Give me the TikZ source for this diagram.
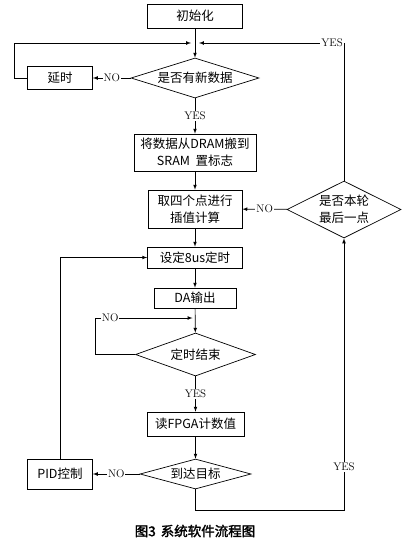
\documentclass[tikz,border=0pt]{standalone}
\usepackage{fontspec}
\usepackage{tikz}
\usetikzlibrary{positioning,shapes,arrows}
\newfontfamily\cjk{Noto Sans CJK SC}
\newfontfamily\cjkb[FakeBold=2]{Noto Sans CJK SC}

\begin{document}
\begin{tikzpicture}[x=1pt,y=-1pt,>=latex,line width=0.7pt,
    proc/.style={draw,rectangle,inner sep=0pt,align=center,font=\cjk\fontsize{12.5}{17}\selectfont},
    test/.style={draw,diamond,inner sep=0pt,align=center,font=\cjk\fontsize{12.5}{17}\selectfont},
    lbl/.style={fill=white,inner sep=1pt,font=\fontsize{11}{12}\selectfont}]
  \fill[white] (0,0) rectangle (412,544);
  \useasboundingbox (0,0) rectangle (412,544);
          % main column
          \node [proc,minimum width=95pt,minimum height=24pt] (init) at (195,16) {初始化};
          \node [test,minimum width=128pt,minimum height=40pt,aspect=3.2] (new) at (195,78) {是否有新数据};
          \node [proc,minimum width=65pt,minimum height=23pt] (delay) at (60,78) {延时};
          \node [proc,minimum width=122pt,minimum height=37pt] (move) at (195,152.5) {将数据从DRAM搬到\\SRAM\ \ 置标志};
          \node [proc,minimum width=94pt,minimum height=38pt] (interp) at (195,209) {取四个点进行\\插值计算};
          \node [test,minimum width=114pt,minimum height=57pt,aspect=2] (last) at (344,209.5) {是否本轮\\最后一点};
          \node [proc,minimum width=95pt,minimum height=21pt] (timer) at (195,257.5) {设定8us定时};
          \node [proc,minimum width=82pt,minimum height=20pt] (da) at (195,298) {DA输出};
          \node [test,minimum width=120pt,minimum height=43pt,aspect=2.8] (tend) at (195.5,354.5) {定时结束};
          \node [proc,minimum width=97pt,minimum height=24pt] (fpga) at (195.5,424) {读FPGA计数值};
          \node [test,minimum width=111pt,minimum height=30pt,aspect=3.7] (goal) at (195.5,474) {到达目标};
          \node [proc,minimum width=65pt,minimum height=30pt] (pid) at (60,474) {PID控制};
          \coordinate (j1) at (195,43);
          \coordinate (j2) at (195.5,318);
          % connectors
          \draw [->] (init) -- (new);
          \draw [->] (new) -- node [lbl] {NO} (delay);
          \draw [->,shorten >=4pt] (delay.west) -- ++(-13,0) |- (j1);
          \draw [->,shorten >=4pt] (last.north) |- node [lbl,pos=0.54] {YES} (j1);
          \draw [->] (new) -- node [lbl] {YES} (move);
          \draw [->] (move) -- (interp);
          \draw [->] (last) -- node [lbl] {NO} (interp);
          \draw [->] (interp) -- (timer);
          \draw [->] (timer) -- (da);
          \draw [->] (da) -- (tend);
          \draw [->,shorten >=3pt] (tend.west) -- ++(-40,0) |- node [lbl,pos=0.575] {NO} (j2);
          \draw [->] (tend) -- node [lbl] {YES} (fpga);
          \draw [->] (fpga) -- (goal);
          \draw [->] (goal) -- node [lbl] {NO} (pid);
          \draw [->] (pid.north) |- (timer.west);
          \draw [->] (goal.south) -- ++(0,21) -| node [lbl,pos=0.58] {YES} (last.south);
          % caption
          \node [font=\cjkb\fontsize{13.5}{15}\selectfont] (cap) at (195,531) {图3\hspace{5pt}系统软件流程图};
\end{tikzpicture}
\end{document}
